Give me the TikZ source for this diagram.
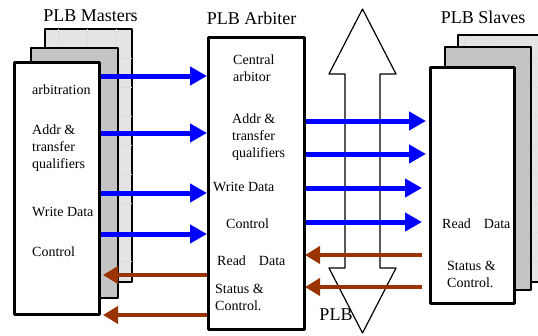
\documentclass[tikz,border=0pt]{standalone}
\usepackage{fontspec}
\setmainfont{Liberation Serif}
\usepackage{tikz}
\usetikzlibrary{calc}
\usetikzlibrary{arrows.meta}
\definecolor{qqqqff}{rgb}{0.,0.,1.}
\definecolor{zzttqq}{rgb}{0.6,0.2,0.}
\definecolor{e4e4e4}{rgb}{0.894,0.894,0.894}
\definecolor{c4c4c4}{rgb}{0.769,0.769,0.769}
\tikzstyle{every node}=[font=\fontsize{14}{17}\selectfont]
\tikzstyle{sheetback}=[draw=black,line width=1.4pt,fill=e4e4e4,inner sep=0pt]
\tikzstyle{sheetmid}=[draw=black,line width=1.4pt,fill=c4c4c4,inner sep=0pt]
\tikzstyle{sheetfront}=[draw=black,line width=3pt,fill=white,inner sep=0pt]
\tikzstyle{title}=[font=\fontsize{18}{21}\selectfont,anchor=base]
\tikzstyle{lbl}=[anchor=base west,inner sep=0pt,align=left]
\tikzstyle{griddot}=[gray!30,line width=0.4pt,densely dotted]
\tikzstyle{bluesig}=[-{Triangle[length=17pt,width=18pt]},line width=5pt,color=qqqqff]
\tikzstyle{brownsig}=[-{Triangle[length=15pt,width=17pt]},line width=4.5pt,color=zzttqq]

\begin{document}
\begin{tikzpicture}[line join=round,x=1.0pt,y=-1.0pt]
            \clip (0,0) rectangle (538,335);
            \useasboundingbox (0,0) rectangle (538,335);
            % masters
            \node[sheetback,minimum width=87pt,minimum height=253pt] (mback) at (88.5,155.5) {};
            \draw[griddot,step=29pt] ($(mback.north west)+(1,1)$) grid ($(mback.south east)+(-1,-1)$);
            \node[sheetmid,minimum width=87pt,minimum height=250pt] (mmid) at (74.5,173) {};
            \node[sheetfront,minimum width=85pt,minimum height=252pt] (mfront) at (57,188.5) {};
            \node[title] (mtitle) at (90.5,21) {PLB Masters};
            \node[lbl] (marb) at (32,94) {arbitration};
            \node[lbl] (maddr) at (32,168) {Addr \&\\transfer\\qualifiers};
            \node[lbl] (mwd) at (32,216) {Write Data};
            \node[lbl] (mctl) at (32,256) {Control};
            % arbiter
            \node[sheetfront,minimum width=96pt,minimum height=292pt] (arb) at (256.5,183.75) {};
            \node[title] (atitle) at (251.5,24) {PLB Arbiter};
            \node[lbl] (acent) at (233,81) {Central\\arbitor};
            \node[lbl] (aaddr) at (232,157) {Addr \&\\transfer\\qualifiers};
            \node[lbl] (awd) at (213,191) {Write Data};
            \node[lbl] (actl) at (226,228) {Control};
            \node[lbl] (ard) at (217,265) {Read\hspace{13pt}Data};
            \node[lbl] (asts) at (215,310) {Status \&\\Control.};
            % slaves
            \node[sheetback,minimum width=87pt,minimum height=247pt] (sback) at (501.5,158.5) {};
            \draw[griddot,step=29pt] ($(sback.north west)+(1,1)$) grid ($(sback.south east)+(-1,-1)$);
            \node[sheetmid,minimum width=86pt,minimum height=243pt] (smid) at (488,168.5) {};
            \node[sheetfront,minimum width=84pt,minimum height=236pt] (sfront) at (472.5,185.5) {};
            \node[title] (stitle) at (483,23) {PLB Slaves};
            \node[lbl] (srd) at (442,228) {Read\hspace{13pt}Data};
            \node[lbl] (ssts) at (447,287) {Status \&\\Control.};
            % PLB bus
            \draw[line width=1.2pt,fill=white] (362.5,9) -- (396,74) -- (380,74) -- (380,268) -- (396,268)
              -- (362.5,333) -- (329,268) -- (345,268) -- (345,74) -- (329,74) -- cycle;
            % signals
            \draw[bluesig] (mfront.east |- 0,76) -- (arb.west |- 0,76);
            \draw[bluesig] (mfront.east |- 0,133) -- (arb.west |- 0,133);
            \draw[bluesig] (mfront.east |- 0,193) -- (arb.west |- 0,193);
            \draw[bluesig] (mfront.east |- 0,234) -- (arb.west |- 0,234);
            \draw[brownsig,shorten >=2pt] (arb.west |- 0,275) -- (mfront.east |- 0,275);
            \draw[brownsig,shorten >=2pt] (arb.west |- 0,315) -- (mfront.east |- 0,315);
            \draw[bluesig,shorten >=3pt] (arb.east |- 0,121) -- (sfront.west |- 0,121);
            \draw[bluesig,shorten >=3pt] (arb.east |- 0,154) -- (sfront.west |- 0,154);
            \draw[bluesig,shorten >=7pt] (arb.east |- 0,188) -- (sfront.west |- 0,188);
            \draw[bluesig,shorten >=7pt] (arb.east |- 0,222) -- (sfront.west |- 0,222);
            \draw[brownsig,shorten <=7pt,shorten >=-1pt] (sfront.west |- 0,255) -- (arb.east |- 0,255);
            \draw[brownsig,shorten <=7pt,shorten >=-1pt] (sfront.west |- 0,287) -- (arb.east |- 0,287);
            \node[title] (plb) at (336,320) {PLB};
\end{tikzpicture}
\end{document}
